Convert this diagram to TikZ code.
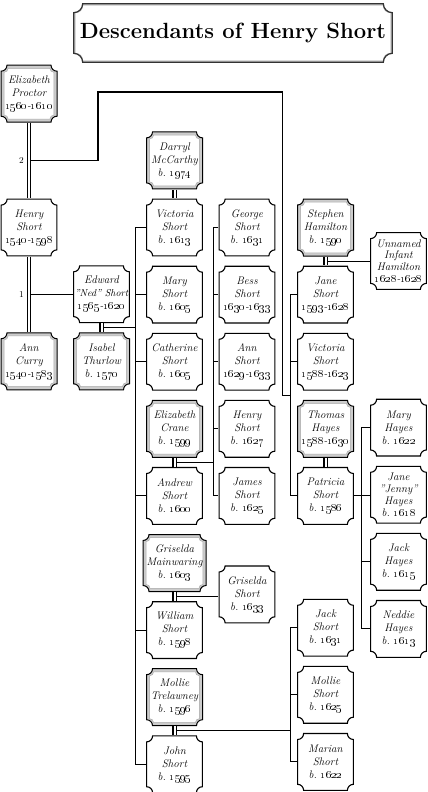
\documentclass[tikz,border=0pt]{standalone}
\usepackage{tikz}
\usetikzlibrary{positioning, calc}
% concave-cornered outline round a node: node, inset, radius
\def\notch#1#2#3{%
	($(#1.north west)+(#2pt+#3pt,-#2pt)$) -- ($(#1.north east)+(-#2pt-#3pt,-#2pt)$)
	arc[start angle=180, end angle=270, radius=#3pt]
	-- ($(#1.south east)+(-#2pt,#2pt+#3pt)$)
	arc[start angle=90, end angle=180, radius=#3pt]
	-- ($(#1.south west)+(#2pt+#3pt,#2pt)$)
	arc[start angle=0, end angle=90, radius=#3pt]
	-- ($(#1.north west)+(#2pt,-#2pt-#3pt)$)
	arc[start angle=270, end angle=360, radius=#3pt] -- cycle}
\def\born#1{b.~\oldstylenums{#1}}
\def\life#1#2{\oldstylenums{#1}-\oldstylenums{#2}}
\tikzstyle{line} = [draw, line width=1.1pt]
\tikzstyle{wed} = [draw, double, double distance=2pt, line width=1.1pt]
\tikzstyle{frame} = [draw=black, line width=1.1pt, fill=white]
\tikzstyle{person} = [rectangle, fill=white, minimum width=57pt, minimum height=58pt, inner sep=0pt, align=center,
	font=\fontsize{11}{13}\selectfont\itshape,
	path picture={\path[frame] \notch{path picture bounding box}{0.6}{6};}]
\tikzstyle{spouse} = [person,
	path picture={\path[frame, line width=1pt, fill=gray!40] \notch{path picture bounding box}{0.5}{6};
		\path[draw=gray!70, line width=0.5pt, fill=white] \notch{path picture bounding box}{3.6}{4};}]
\tikzstyle{tight} = [font=\fontsize{11}{11.8}\selectfont\itshape]
\tikzstyle{banner} = [rectangle, fill=white, minimum width=320pt, minimum height=60pt,
	font=\fontsize{22}{26}\selectfont\bfseries,
	path picture={\path[draw=black!80, line width=1.3pt, fill=gray!45] \notch{path picture bounding box}{0.7}{9};
		\path[fill=white] \notch{path picture bounding box}{2.7}{7.5};}]
\tikzstyle{gen} = [font=\small, inner sep=1pt]

\begin{document}
\begin{tikzpicture}[x=1pt, y=1pt, node distance=8.7pt and 16pt]
		\useasboundingbox (0,0) rectangle (428,-792);
		\node[banner] (head) at (233,-33) {Descendants of Henry Short};
		% Henry and his wives
		\node[person] (henry) at (29,-227.5) {Henry\\Short\\\life{1540}{1598}};
		\node[spouse, above=75.4pt of henry] (proctor) {Elizabeth\\Proctor\\\life{1560}{1610}};
		\node[spouse, below=75.4pt of henry] (curry) {Ann\\Curry\\\life{1540}{1583}};
		\node[person] (edward) at (101.5,-294.2) {Edward\\{\fontsize{10}{13}\selectfont"Ned" Short}\\\life{1565}{1620}};
		\node[spouse, below=of edward] (thurlow) {Isabel\\Thurlow\\\born{1570}};
		% children of Edward
		\node[person] (victoria) at (174.5,-227.5) {Victoria\\Short\\\born{1613}};
		\node[spouse, above=of victoria] (mccarthy) {Darryl\\McCarthy\\\born{1974}};
		\node[person, below=of victoria] (mary) {Mary\\Short\\\born{1605}};
		\node[person, below=of mary] (catherine) {Catherine\\Short\\\born{1605}};
		\node[spouse, below=of catherine] (crane) {Elizabeth\\Crane\\\born{1599}};
		\node[person, below=of crane] (andrew) {Andrew\\Short\\\born{1600}};
		\node[spouse, below=of andrew, minimum width=64pt] (mainwaring) {Griselda\\Mainwaring\\\born{1603}};
		\node[person, below=of mainwaring] (william) {William\\Short\\\born{1598}};
		\node[spouse, below=of william] (trelawney) {Mollie\\Trelawney\\\born{1596}};
		\node[person, below=of trelawney] (john) {John\\Short\\\born{1595}};
		% grandchildren
		\node[person] (george) at (247,-227.5) {George\\Short\\\born{1631}};
		\node[person, below=of george] (bess) {Bess\\Short\\\life{1630}{1633}};
		\node[person, below=of bess] (annS) {Ann\\Short\\\life{1629}{1633}};
		\node[person, below=of annS] (henryS) {Henry\\Short\\\born{1627}};
		\node[person, below=of henryS] (james) {James\\Short\\\born{1625}};
		\node[person] (griseldaS) at (247,-594.4) {Griselda\\Short\\\born{1633}};
		% children of the second marriage
		\node[spouse] (stephen) at (325.5,-227.5) {Stephen\\Hamilton\\\born{1590}};
		\node[person, below=of stephen] (janeS) {Jane\\Short\\\life{1593}{1628}};
		\node[person, below=of janeS] (victoriaS) {Victoria\\Short\\\life{1588}{1623}};
		\node[spouse, below=of victoriaS] (thomas) {Thomas\\Hayes\\\life{1588}{1630}};
		\node[person, below=of thomas] (patricia) {Patricia\\Short\\\born{1586}};
		\node[person] (jackS) at (325.5,-627.7) {Jack\\Short\\\born{1631}};
		\node[person, below=of jackS] (mollieS) {Mollie\\Short\\\born{1625}};
		\node[person, below=of mollieS] (marian) {Marian\\Short\\\born{1622}};
		\node[person, tight] (infant) at (398.5,-261) {Unnamed\\Infant\\Hamilton\\\life{1628}{1628}};
		\node[person] (maryH) at (398.5,-427.6) {Mary\\Hayes\\\born{1622}};
		\node[person, tight, below=of maryH] (jenny) {Jane\\"Jenny"\\Hayes\\\born{1618}};
		\node[person, below=of jenny] (jackH) {Jack\\Hayes\\\born{1615}};
		\node[person, below=of jackH] (neddie) {Neddie\\Hayes\\\born{1613}};
		% marriages and spines
		\coordinate (m2) at ($(proctor.south)!.5!(henry.north)$);
		\coordinate (m1) at ($(henry.south)!.5!(curry.north)$);
		\coordinate (me) at ($(edward.south)!.5!(thurlow.north)$);
		\coordinate (ma) at ($(crane.south)!.5!(andrew.north)$);
		\coordinate (mw) at ($(mainwaring.south)!.5!(william.north)$);
		\coordinate (mj) at ($(trelawney.south)!.5!(john.north)$);
		\coordinate (ms) at ($(stephen.south)!.5!(janeS.north)$);
		\coordinate (s2) at ($(victoria.west)+(-10,0)$);
		\coordinate (s3) at ($(george.west)+(-5,0)$);
		\coordinate (s4) at ($(janeS.west)+(-6,0)$);
		\coordinate (s5) at ($(jackS.west)+(-6,0)$);
		\coordinate (s6) at ($(maryH.west)+(-8,0)$);
		\coordinate (j2) at ($(victoriaS.south -| s4)!.5!(thomas.north -| s4)$);
		\node[gen, left=4pt of m2] (gen2) {2};
		\node[gen, left=4pt of m1] (gen1) {1};
		\draw[line] (m2) -| (98,-92) -| ($(j2)+(-8,0)$) -- (j2);
		\draw[line] (m1) -- (m1 -| edward.west);
		\draw[line] (me) -- (me -| s2);
		\draw[line] (victoria.west) -- (s2) |- (john.west);
		\draw[line] (mary.west) -- (mary.west -| s2);
		\draw[line] (catherine.west) -- (catherine.west -| s2);
		\draw[line] (andrew.west) -- (andrew.west -| s2);
		\draw[line] (william.west) -- (william.west -| s2);
		\draw[line] (ma) -- (ma -| s3);
		\draw[line] (george.west) -- (s3) |- (james.west);
		\draw[line] (bess.west) -- (bess.west -| s3);
		\draw[line] (annS.west) -- (annS.west -| s3);
		\draw[line] (henryS.west) -- (henryS.west -| s3);
		\draw[line] (mw) -- (mw -| griseldaS.west);
		\draw[line] (janeS.west) -- (s4) |- (patricia.west);
		\draw[line] (victoriaS.west) -- (victoriaS.west -| s4);
		\draw[line] (ms) -- (ms -| infant.west);
		\draw[line] (mj) -- (mj -| s5);
		\draw[line] (jackS.west) -- (s5) |- (marian.west);
		\draw[line] (mollieS.west) -- (mollieS.west -| s5);
		\draw[line] (patricia.east) -- (patricia.east -| jenny.west);
		\draw[line] (maryH.west) -- (s6) |- (neddie.west);
		\draw[line] (jackH.west) -- (jackH.west -| s6);
		% double lines of marriage
		\draw[wed] (proctor.south) -- (henry.north);
		\draw[wed] (henry.south) -- (curry.north);
		\draw[wed] (edward.south) -- (thurlow.north);
		\draw[wed] (mccarthy.south) -- (victoria.north);
		\draw[wed] (crane.south) -- (andrew.north);
		\draw[wed] (mainwaring.south) -- (william.north);
		\draw[wed] (trelawney.south) -- (john.north);
		\draw[wed] (stephen.south) -- (janeS.north);
		\draw[wed] (thomas.south) -- (patricia.north);
	\end{tikzpicture}
\end{document}
